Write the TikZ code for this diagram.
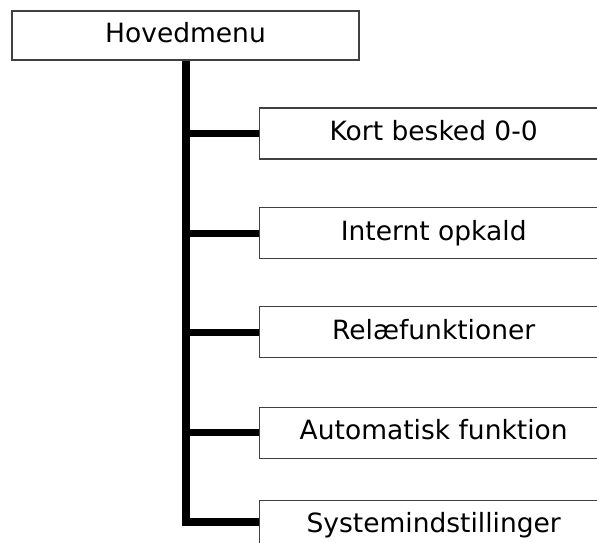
\documentclass[tikz,border=0pt]{standalone}
\usepackage{fontspec}
\setmainfont{DejaVu Sans}
\usetikzlibrary{positioning}

\begin{document}
\begin{tikzpicture}[x=1bp, y=-1bp,
  menubox/.style={draw=black!75, line width=1.4bp, rectangle, fill=white,
    minimum height=51bp, text height=19bp, text depth=5bp,
    font=\fontsize{26.5bp}{32bp}\selectfont},
  subbox/.style={menubox, minimum width=348bp, anchor=north west},
  trunk/.style={line width=8bp, line join=miter},
  branch/.style={line width=7bp}]
\path[use as bounding box, clip] (0,0) rectangle (597,543);

% Nodes
\node[menubox, minimum width=347bp, minimum height=49bp] (hoved) at (185.5,35.5) {Hovedmenu};
\node[subbox] (kort) at (259,107.5) {Kort besked 0-0};
\node[subbox] (internt) at (259,207) {Internt opkald};
\node[subbox] (relae) at (259,306) {Relæfunktioner};
\node[subbox] (auto) at (259,406.5) {Automatisk funktion};
\node[subbox] (system) at (259,499.5) {Systemindstillinger};

% Tree lines
\draw[trunk] (hoved.south) |- ([yshift=4bp]system.west);
\foreach \n in {kort, internt, relae, auto}
  \draw[branch] (hoved.south |- \n.west) -- (\n.west);
\end{tikzpicture}
\end{document}
